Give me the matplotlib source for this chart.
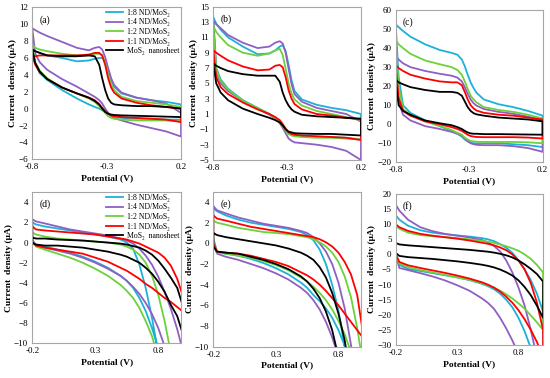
import numpy as np
import matplotlib
matplotlib.use("Agg")
import matplotlib.pyplot as plt

plt.rcParams['font.family'] = ['Liberation Serif', 'DejaVu Serif']

labels = ["1:8 ND/MoS\u2082", "1:4 ND/MoS\u2082", "1:2 ND/MoS\u2082", "1:1 ND/MoS\u2082", "MoS\u2082  nanosheet"]
colors = ["#1cb1d9", "#8f5fc2", "#6cd13a", "#ff0000", "#000000"]

# potential grid, top row (CV loops -0.8 .. 0.2 V)
xt = [-0.8, -0.78, -0.75, -0.7, -0.6, -0.5, -0.42, -0.38, -0.35, -0.33, -0.31, -0.29, -0.27, -0.25, -0.2, -0.1, 0.0, 0.1, 0.2]
# potential grid, bottom row (-0.2 .. 1.0 V)
xb = [-0.2, -0.17, -0.1, 0.0, 0.1, 0.2, 0.3, 0.4, 0.5, 0.55, 0.6, 0.65, 0.7, 0.75, 0.8, 0.85, 0.9, 0.95, 1.0]

# (a) upper / lower branches
a_c8_up = [7.0, 6.8, 6.6, 6.3, 6.0, 5.6, 5.7, 5.9, 6.0, 6.0, 5.6, 4.6, 3.4, 2.6, 1.8, 1.3, 1.0, 0.8, 0.5]
a_c4_up = [9.5, 9.3, 9.0, 8.6, 7.9, 7.2, 6.9, 7.2, 7.3, 7.0, 6.1, 4.8, 3.6, 2.8, 1.9, 1.3, 1.0, 0.6, -0.5]
a_c2_up = [7.5, 7.2, 7.0, 6.8, 6.5, 6.3, 6.3, 6.5, 6.5, 6.3, 5.4, 4.0, 2.9, 2.2, 1.4, 0.9, 0.7, 0.5, 0.2]
a_c1_up = [6.2, 6.2, 6.3, 6.3, 6.3, 6.3, 6.4, 6.6, 6.6, 6.3, 5.2, 3.6, 2.5, 1.9, 1.2, 0.7, 0.4, 0.2, 0.0]
a_ms_up = [7.0, 6.8, 6.6, 6.3, 6.2, 6.2, 6.3, 6.2, 5.2, 3.6, 2.2, 1.2, 0.7, 0.5, 0.4, 0.3, 0.3, 0.2, 0.0]
a_c8_lo = [7.0, 5.3, 4.2, 3.4, 2.2, 1.2, 0.5, 0.2, 0.0, -0.2, -0.4, -0.6, -0.8, -0.9, -1.1, -1.2, -1.2, -1.3, -1.3]
a_c4_lo = [9.5, 6.5, 5.5, 4.6, 3.5, 2.6, 1.8, 1.4, 1.0, 0.6, 0.0, -0.5, -0.9, -1.1, -1.4, -1.9, -2.3, -2.7, -3.3]
a_c2_lo = [7.5, 5.5, 4.5, 3.6, 2.5, 1.8, 1.2, 0.8, 0.3, -0.1, -0.5, -0.9, -1.1, -1.2, -1.3, -1.4, -1.4, -1.4, -1.5]
a_c1_lo = [6.2, 5.2, 4.3, 3.5, 2.5, 1.8, 1.3, 1.0, 0.5, 0.1, -0.3, -0.6, -0.8, -0.9, -1.0, -1.1, -1.2, -1.3, -1.6]
a_ms_lo = [7.0, 5.4, 4.4, 3.5, 2.5, 1.8, 1.3, 0.9, 0.5, 0.0, -0.4, -0.6, -0.7, -0.75, -0.8, -0.85, -0.9, -0.95, -1.0]

# (b)
b_c8_up = [13.6, 12.8, 12.0, 11.0, 9.8, 8.8, 8.9, 9.3, 9.8, 10.0, 9.2, 7.4, 5.4, 4.0, 2.9, 2.2, 1.8, 1.5, 1.0]
b_c4_up = [13.2, 12.7, 12.2, 11.3, 10.3, 9.6, 9.8, 10.3, 10.5, 10.2, 9.0, 6.9, 4.9, 3.6, 2.6, 1.8, 1.4, 1.0, 0.0]
b_c2_up = [12.5, 11.7, 11.0, 10.0, 9.0, 8.6, 8.9, 9.3, 9.5, 8.7, 6.9, 5.0, 3.7, 2.9, 2.1, 1.4, 1.0, 0.6, 0.2]
b_c1_up = [9.3, 9.0, 8.6, 8.0, 7.2, 6.7, 6.8, 7.3, 7.4, 7.1, 5.8, 4.1, 3.0, 2.3, 1.6, 1.0, 0.8, 0.5, 0.3]
b_ms_up = [7.6, 7.3, 7.0, 6.6, 6.2, 6.0, 6.0, 6.0, 5.2, 3.8, 2.8, 2.1, 1.6, 1.3, 0.9, 0.7, 0.6, 0.5, 0.4]
b_c8_lo = [13.6, 7.0, 5.5, 4.3, 2.8, 1.8, 1.0, 0.5, 0.0, -0.5, -1.0, -1.5, -1.7, -1.8, -1.9, -2.0, -2.0, -2.1, -2.3]
b_c4_lo = [13.2, 6.5, 5.0, 4.0, 2.7, 1.7, 0.9, 0.4, -0.2, -0.8, -1.5, -2.2, -2.5, -2.7, -2.8, -3.0, -3.3, -3.8, -5.0]
b_c2_lo = [12.5, 6.8, 5.3, 4.2, 2.7, 1.8, 1.0, 0.5, -0.1, -0.6, -1.2, -1.6, -1.8, -1.9, -2.0, -2.1, -2.1, -2.2, -2.3]
b_c1_lo = [9.3, 5.8, 4.5, 3.6, 2.5, 1.6, 1.0, 0.6, 0.2, -0.3, -0.9, -1.4, -1.6, -1.7, -1.8, -1.9, -2.0, -2.1, -2.4]
b_ms_lo = [7.6, 5.0, 3.8, 2.8, 1.7, 1.0, 0.5, 0.2, -0.1, -0.5, -1.0, -1.3, -1.4, -1.5, -1.55, -1.6, -1.6, -1.7, -1.8]

# (c)
c_c8_up = [52.5, 51, 49, 46, 42, 39, 37.5, 36.5, 34, 30.5, 26, 22, 19, 16.5, 13, 10.5, 9, 7, 4.5]
c_c4_up = [35.5, 34, 32, 30, 28, 26.5, 25.5, 24.5, 22.5, 19.5, 16, 13, 11, 9.8, 8, 6.5, 5.5, 4, 2]
c_c2_up = [44, 42, 40, 37, 33.5, 31.5, 30, 28.5, 26, 22.5, 18.5, 15, 13, 11.5, 9, 7.5, 6.5, 5, 3]
c_c1_up = [31, 29.5, 28, 26, 24, 22.5, 22, 22, 20.5, 17, 13, 10, 8.3, 7.2, 6, 5, 4.5, 3.5, 2.5]
c_ms_up = [23.5, 22, 21, 19.5, 18, 17, 17, 16.5, 15, 12, 9, 7, 5.8, 5.2, 4.5, 3.5, 3, 2.5, 1.5]
c_c8_lo = [52.5, 25, 10, 6, 2, -1, -3.5, -5, -6.5, -8, -9, -9.5, -10, -10, -10, -10, -10.5, -11, -12]
c_c4_lo = [35.5, 12, 5, 2, -1, -2.5, -4, -5, -6, -7.5, -9, -10, -10.5, -10.8, -11, -11, -11.5, -12.5, -14.5]
c_c2_lo = [44, 20, 8, 5, 1.5, -1, -3, -4.5, -5.5, -7, -8, -8.8, -9, -9.2, -9.3, -9.3, -9.3, -9.5, -10]
c_c1_lo = [31, 14, 7, 4.5, 1.5, 0, -1.5, -2.5, -3.5, -4.5, -5.5, -6.2, -6.5, -6.7, -6.8, -6.8, -6.8, -7, -7.5]
c_ms_lo = [23.5, 10, 7, 5, 2, 0.5, -0.5, -1.5, -2.5, -3.5, -4.3, -4.8, -5, -5, -5.2, -5.2, -5.3, -5.4, -5.5]

# (d)
d_c8_up = [2.0, 1.8, 1.6, 1.4, 1.2, 1.0, 0.8, 0.6, 0.3, 0.0, -0.6, -2.2, -4.5, -7.5, -11, -15, -20, -25, -30]
d_c4_up = [2.3, 2.1, 1.9, 1.6, 1.3, 1.1, 0.9, 0.7, 0.4, 0.2, -0.1, -0.6, -1.3, -2.2, -3.4, -4.9, -6.6, -8.6, -11]
d_c2_up = [1.0, 0.8, 0.6, 0.4, 0.3, 0.2, 0.1, 0.0, -0.2, -0.4, -0.7, -1.2, -2.0, -3.3, -5.2, -7.8, -11, -15, -20]
d_c1_up = [1.6, 1.3, 1.2, 1.1, 1.0, 0.9, 0.8, 0.6, 0.4, 0.3, 0.1, -0.1, -0.4, -0.7, -1.0, -1.5, -2.3, -3.6, -5.5]
d_ms_up = [0.5, 0.4, 0.4, 0.3, 0.25, 0.2, 0.1, 0.0, -0.1, -0.2, -0.35, -0.5, -0.8, -1.2, -1.8, -2.6, -3.5, -4.5, -6.5]
d_c8_lo = [0.0, -0.2, -0.4, -0.7, -1.0, -1.4, -1.9, -2.5, -3.3, -3.8, -4.5, -5.5, -6.8, -8.5, -10.5, -14, -18, -22, -26]
d_c4_lo = [0.3, -0.3, -0.5, -0.8, -1.1, -1.5, -2.0, -2.6, -3.3, -3.8, -4.4, -5.1, -6.0, -7.1, -8.5, -10.3, -13, -16, -20]
d_c2_lo = [0.2, -0.4, -0.7, -1.1, -1.5, -2.0, -2.6, -3.3, -4.2, -4.8, -5.5, -6.5, -7.8, -9.3, -11.5, -14, -17, -20, -24]
d_c1_lo = [0.0, -0.3, -0.5, -0.7, -0.9, -1.1, -1.5, -1.9, -2.5, -2.8, -3.2, -3.6, -4.1, -4.5, -5.0, -5.5, -5.9, -6.4, -6.9]
d_ms_lo = [0.0, -0.2, -0.3, -0.3, -0.4, -0.5, -0.7, -0.9, -1.2, -1.4, -1.7, -2.0, -2.5, -3.1, -3.9, -4.9, -6.2, -7.3, -9.3]

# (e)
e_c8_up = [3.4, 3.1, 2.7, 2.3, 2.0, 1.8, 1.6, 1.4, 1.1, 0.8, 0.3, -0.6, -2.0, -4.0, -6.5, -10, -14, -19, -25]
e_c4_up = [3.6, 3.2, 2.9, 2.5, 2.2, 1.9, 1.7, 1.5, 1.2, 1.0, 0.6, 0.0, -0.8, -2.0, -3.8, -6.3, -9.8, -14, -19]
e_c2_up = [2.2, 2.0, 1.8, 1.5, 1.3, 1.1, 1.0, 0.9, 0.7, 0.6, 0.4, 0.1, -0.3, -0.9, -1.8, -3.2, -5.2, -8.2, -12]
e_c1_up = [2.7, 2.4, 2.2, 1.9, 1.6, 1.4, 1.2, 1.0, 0.8, 0.7, 0.6, 0.4, 0.1, -0.3, -0.9, -1.8, -3.0, -5.0, -9.0]
e_ms_up = [1.0, 0.8, 0.6, 0.4, 0.2, 0.0, -0.2, -0.5, -0.9, -1.2, -1.6, -2.3, -3.3, -4.8, -6.8, -9.4, -13, -17, -22]
e_c8_lo = [0.5, -0.8, -1.0, -1.2, -1.5, -1.9, -2.4, -3.0, -3.8, -4.3, -5.0, -5.6, -6.3, -7.2, -8.4, -9.9, -12, -15, -19]
e_c4_lo = [0.0, -1.0, -1.3, -1.6, -2.0, -2.4, -2.9, -3.5, -4.3, -4.8, -5.5, -6.4, -7.6, -9.1, -11, -13.5, -17, -21, -25]
e_c2_lo = [0.0, -0.9, -1.0, -1.2, -1.4, -1.7, -2.1, -2.6, -3.3, -3.7, -4.2, -4.8, -5.5, -6.4, -7.5, -8.8, -10.5, -13, -16]
e_c1_lo = [0.0, -0.8, -0.9, -1.0, -1.2, -1.5, -1.8, -2.2, -2.8, -3.1, -3.5, -4.0, -4.6, -5.3, -6.0, -6.8, -7.6, -8.4, -9.2]
e_ms_lo = [-0.3, -0.8, -0.9, -1.0, -1.3, -1.6, -2.0, -2.5, -3.2, -3.7, -4.4, -5.3, -6.6, -8.4, -11, -14, -18, -22, -27]

# (f)
f_c8_up = [13, 11.5, 9.5, 8.0, 7.2, 6.7, 6.3, 5.9, 5.4, 5.0, 4.4, 3.4, 2.2, 0.5, -2.0, -5.0, -8.5, -13, -19]
f_c4_up = [16.5, 14.5, 11.5, 9.0, 7.7, 6.8, 6.2, 5.6, 4.8, 4.0, 2.8, 1.0, -2.0, -6.0, -11, -17, -25, -34, -45]
f_c2_up = [9.5, 8.5, 7.2, 6.4, 6.0, 5.7, 5.4, 5.0, 4.5, 4.2, 3.8, 3.3, 2.7, 2.0, 1.2, 0.0, -1.5, -3.5, -6]
f_c1_up = [10, 9.0, 7.8, 6.8, 6.2, 5.7, 5.2, 4.6, 3.9, 3.5, 3.0, 2.3, 1.4, 0.0, -2.0, -5.0, -9.5, -16, -25]
f_ms_up = [3.8, 3.3, 3.0, 2.7, 2.4, 2.1, 1.8, 1.5, 1.1, 0.9, 0.6, 0.2, -0.3, -1.0, -2.0, -3.3, -4.8, -6.5, -9]
f_c8_lo = [0.0, -3.5, -4.8, -5.5, -6.2, -6.9, -7.6, -8.5, -9.7, -10.5, -11.5, -13, -15, -17.5, -21, -25.5, -31, -37, -44]
f_c4_lo = [0.0, -4.5, -5.2, -6.2, -7.3, -8.6, -10.2, -12.0, -14.5, -16.0, -18.0, -21, -24.5, -28.5, -33, -40, -48, -57, -66]
f_c2_lo = [0.0, -3.0, -4.2, -5.2, -6.0, -6.8, -7.6, -8.4, -9.5, -10.2, -11.0, -12.0, -13.2, -14.6, -16.2, -18.0, -20.2, -22.5, -25]
f_c1_lo = [0.0, -2.5, -3.6, -4.5, -5.3, -6.1, -7.0, -8.0, -9.2, -10.0, -11.0, -12.3, -14.0, -16.0, -18.5, -21.5, -25, -29, -34]
f_ms_lo = [0.5, -0.5, -0.9, -1.2, -1.5, -1.9, -2.3, -2.8, -3.4, -3.8, -4.3, -5.0, -5.9, -7.0, -8.6, -10.8, -13.5, -17, -21]

panels = [
    ("(a)", xt, [a_c8_up, a_c4_up, a_c2_up, a_c1_up, a_ms_up], [a_c8_lo, a_c4_lo, a_c2_lo, a_c1_lo, a_ms_lo]),
    ("(b)", xt, [b_c8_up, b_c4_up, b_c2_up, b_c1_up, b_ms_up], [b_c8_lo, b_c4_lo, b_c2_lo, b_c1_lo, b_ms_lo]),
    ("(c)", xt, [c_c8_up, c_c4_up, c_c2_up, c_c1_up, c_ms_up], [c_c8_lo, c_c4_lo, c_c2_lo, c_c1_lo, c_ms_lo]),
    ("(d)", xb, [d_c8_up, d_c4_up, d_c2_up, d_c1_up, d_ms_up], [d_c8_lo, d_c4_lo, d_c2_lo, d_c1_lo, d_ms_lo]),
    ("(e)", xb, [e_c8_up, e_c4_up, e_c2_up, e_c1_up, e_ms_up], [e_c8_lo, e_c4_lo, e_c2_lo, e_c1_lo, e_ms_lo]),
    ("(f)", xb, [f_c8_up, f_c4_up, f_c2_up, f_c1_up, f_ms_up], [f_c8_lo, f_c4_lo, f_c2_lo, f_c1_lo, f_ms_lo]),
]

# axes boxes in figure fractions [left, bottom, width, height]
boxes = [
    [0.0587, 0.5786, 0.2704, 0.4021],
    [0.3878, 0.5767, 0.2685, 0.4056],
    [0.7194, 0.5706, 0.2673, 0.4029],
    [0.0587, 0.0918, 0.2704, 0.3997],
    [0.3878, 0.0829, 0.2685, 0.4100],
    [0.7194, 0.0873, 0.2680, 0.3995],
]
xlims = [(-0.8, 0.2)] * 3 + [(-0.2, 0.98), (-0.2, 0.98), (-0.2, 1.0)]
ylims = [(-6, 12), (-5, 15), (-20, 60), (-10, 5), (-10, 5), (-30, 20)]
yticks = [np.arange(-6, 13, 2), np.arange(-5, 16, 2), np.arange(-20, 61, 10),
          np.arange(-10, 5, 2), np.arange(-10, 5, 2), np.arange(-30, 21, 5)]
xticks_top = [-0.8, -0.3, 0.2]
xticks_bot = [-0.2, 0.3, 0.8]

fig = plt.figure(figsize=(5.5, 3.78), dpi=100)

for i, (tag, xg, ups, los) in enumerate(panels):
    ax = fig.add_axes(boxes[i])
    for up, lo, c, lab in zip(ups, los, colors, labels):
        xs = list(xg) + list(xg)[::-1] + [xg[0]]
        ys = list(up) + list(lo)[::-1] + [up[0]]
        ax.plot(xs, ys, color=c, lw=1.3, label=lab)
    ax.set_xlim(*xlims[i])
    ax.set_ylim(*ylims[i])
    ax.set_yticks(yticks[i])
    xticks = xticks_top if i < 3 else xticks_bot
    ax.set_xticks(xticks)
    ax.set_xticklabels([f"{v:g}" for v in xticks])
    ax.tick_params(labelsize=6.5, length=0, pad=3)
    for s in ax.spines.values():
        s.set_color("#a6a6a6")
        s.set_linewidth(0.8)
    ax.set_xlabel("Potential (V)", fontsize=6.8, fontweight="bold", labelpad=2)
    ax.set_ylabel("Current  density (\u03bcA)", fontsize=6.8, fontweight="bold", labelpad=1)
    ax.text(0.05, 0.95, tag, transform=ax.transAxes, fontsize=7, va="top", ha="left")
    if i in (0, 3):
        ax.legend(loc="upper right", bbox_to_anchor=(1.02, 1.02), frameon=False,
                  fontsize=5.6, handlelength=2.2, labelspacing=0.2, handletextpad=0.5,
                  borderaxespad=0.2)

fig.savefig("out.png", dpi=100)
